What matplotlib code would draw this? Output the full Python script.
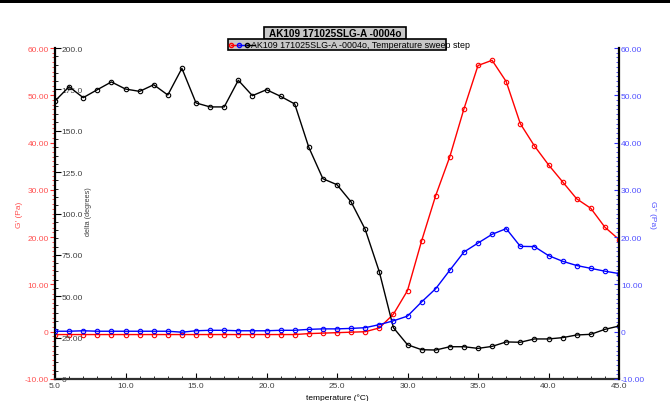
import numpy as np
import matplotlib
matplotlib.use('Agg')
import matplotlib.pyplot as plt
from matplotlib.patches import Rectangle
from matplotlib.lines import Line2D
from matplotlib.ticker import MultipleLocator

plt.rcParams['font.family'] = ['Liberation Sans', 'DejaVu Sans']

# 数据
temperature = np.arange(5, 46, 1)
g1 = [-0.6, -0.6, -0.6, -0.6, -0.6, -0.6, -0.6, -0.6, -0.6, -0.6,
      -0.6, -0.6, -0.6, -0.6, -0.6, -0.6, -0.6, -0.6, -0.4, -0.3,
      -0.2, -0.1, 0.0, 0.8, 3.7, 8.7, 19.2, 28.8, 37.0, 47.1,
      56.3, 57.4, 52.9, 44.0, 39.3, 35.3, 31.7, 28.1, 26.1, 22.1, 19.5]
g2 = [0.1, 0.1, 0.2, 0.1, 0.1, 0.1, 0.1, 0.1, 0.1, -0.1,
      0.2, 0.3, 0.3, 0.2, 0.2, 0.2, 0.3, 0.3, 0.5, 0.6,
      0.6, 0.7, 0.85, 1.5, 2.3, 3.3, 6.3, 9.1, 13.0, 16.85,
      18.75, 20.6, 21.8, 18.05, 18.0, 16.1, 14.9, 14.0, 13.4, 12.8, 12.3]
delta = [168.0, 176.6, 170.0, 174.8, 179.5, 175.2, 173.8, 177.8, 171.6, 187.7,
         166.8, 164.4, 164.4, 180.5, 171.2, 174.8, 170.8, 166.2, 140.0, 121.0,
         117.4, 107.0, 90.4, 64.8, 31.0, 20.7, 17.7, 17.5, 19.5, 19.5,
         18.5, 19.7, 22.4, 22.2, 24.2, 24.2, 25.0, 26.6, 27.0, 30.0, 32.0]

x_ticks = [5, 10, 15, 20, 25, 30, 35, 40, 45]
x_labels = ['5.0', '10.0', '15.0', '20.0', '25.0', '30.0', '35.0', '40.0', '45.0']
g_ticks = [-10, 0, 10, 20, 30, 40, 50, 60]
g_labels = ['-10.00', '0', '10.00', '20.00', '30.00', '40.00', '50.00', '60.00']
d_ticks = [0, 25, 50, 75, 100, 125, 150, 175, 200]
d_labels = ['0', '25.00', '50.00', '75.00', '100.0', '125.0', '150.0', '175.0', '200.0']

title = 'AK109 171025SLG-A -0004o'
legend_text = 'AK109 171025SLG-A -0004o, Temperature sweep step'

fs = 6
red_lbl = '#ff5050'
blue_lbl = '#5050ff'
gray_lbl = '#404040'

fig = plt.figure(figsize=(6.7, 4.02), dpi=100, facecolor='w')
W, H = 670.0, 402.0
L, R, T, B = 55, 619, 49, 380
ax = fig.add_axes([L / W, 1 - B / H, (R - L) / W, (B - T) / H])

# 顶部黑条
fig.patches.append(Rectangle((0, 1 - 4 / H), 1, 4 / H, transform=fig.transFigure,
                             facecolor='black', edgecolor='none'))

mk = dict(marker='o', markersize=3.2, mfc='none', mew=0.8, lw=1.0)

# G'
ax.plot(temperature, g1, color='#ff0000', mec='#ff0000', **mk)
ax.set_xlim(5, 45)
ax.set_ylim(-10, 60)
ax.set_xticks(x_ticks, x_labels)
ax.xaxis.set_minor_locator(MultipleLocator(1))
ax.set_yticks(g_ticks, g_labels)
ax.yaxis.set_minor_locator(MultipleLocator(1))
ax.tick_params(axis='x', which='both', direction='in', labelsize=fs, colors='black',
               labelcolor=gray_lbl, pad=2)
ax.tick_params(axis='x', which='major', length=4)
ax.tick_params(axis='x', which='minor', length=2.5)
ax.tick_params(axis='y', which='both', direction='out', colors='#ff3030',
               labelcolor=red_lbl, labelsize=fs, pad=1)
ax.tick_params(axis='y', which='major', length=3.5)
ax.tick_params(axis='y', which='minor', length=2)
ax.spines['top'].set_visible(False)
ax.spines['right'].set_visible(False)
ax.spines['left'].set_linewidth(1.6)
ax.spines['bottom'].set_linewidth(1.6)
ax.spines['bottom'].set_color('#303030')
ax.set_xlabel('temperature (°C)', fontsize=fs, color='black')
ax.xaxis.set_label_coords(0.5, -0.042)
ax.set_ylabel("G' (Pa)", fontsize=fs, color=red_lbl)
ax.yaxis.set_label_coords(-0.057, 0.5)

# delta
ax2 = ax.twinx()
ax2.plot(temperature, delta, color='black', mec='black', **mk)
ax2.set_ylim(0, 200)
ax2.yaxis.set_ticks_position('left')
ax2.yaxis.set_label_position('left')
ax2.set_yticks(d_ticks, d_labels)
ax2.yaxis.set_minor_locator(MultipleLocator(5))
ax2.tick_params(axis='y', which='both', direction='in', colors='black',
                labelcolor=gray_lbl, labelsize=fs, pad=-4.5)
ax2.tick_params(axis='y', which='major', length=4)
ax2.tick_params(axis='y', which='minor', length=2.5)
for lb in ax2.get_yticklabels():
    lb.set_horizontalalignment('left')
for s in ax2.spines.values():
    s.set_visible(False)
ax2.set_ylabel('delta (degrees)', fontsize=5.2, color=gray_lbl)
ax2.yaxis.set_label_coords(0.066, 0.51)

# G''
ax3 = ax.twinx()
ax3.plot(temperature, g2, color='#0000ff', mec='#0000ff', **mk)
ax3.set_ylim(-10, 60)
ax3.set_yticks(g_ticks, g_labels)
ax3.yaxis.set_minor_locator(MultipleLocator(1))
ax3.tick_params(axis='y', which='both', direction='in', colors='#3030ff',
                labelcolor=blue_lbl, labelsize=fs, pad=1.5)
ax3.tick_params(axis='y', which='major', length=3.5)
ax3.tick_params(axis='y', which='minor', length=2)
for k in ['top', 'left', 'bottom']:
    ax3.spines[k].set_visible(False)
ax3.spines['right'].set_linewidth(1.6)
ax3.spines['right'].set_color('black')
ax3.set_ylabel("G'' (Pa)", fontsize=fs, color=blue_lbl, rotation=270)
ax3.yaxis.set_label_coords(1.066, 0.50)

# 标题框
fig.patches.append(Rectangle((264 / W, 1 - 40 / H), (406 - 264) / W, 12 / H,
                             transform=fig.transFigure, facecolor='#c8c8c8',
                             edgecolor='black', linewidth=1.2, zorder=1))
fig.text(335 / W, 1 - 34 / H, title, ha='center', va='center', fontsize=7.2,
         fontweight='bold', color='black', zorder=3)

# 图例框
fig.patches.append(Rectangle((228 / W, 1 - 51 / H), (446 - 228) / W, 11 / H,
                             transform=fig.transFigure, facecolor='#c8c8c8',
                             edgecolor='black', linewidth=1.2, zorder=1))
for x0, c in [(231, '#ff0000'), (239, '#0000ff'), (247, '#000000')]:
    fig.lines.append(Line2D([x0 / W, (x0 + 8) / W], [1 - 45.5 / H, 1 - 45.5 / H],
                            transform=fig.transFigure, color=c, lw=1.0,
                            marker='o', markersize=3, mfc='none', mec=c,
                            markevery=[0], zorder=2))
fig.text(251 / W, 1 - 45.5 / H, legend_text, ha='left', va='center',
         fontsize=6.4, color='black', zorder=3)

plt.savefig('out.png', dpi=100, facecolor='w')
